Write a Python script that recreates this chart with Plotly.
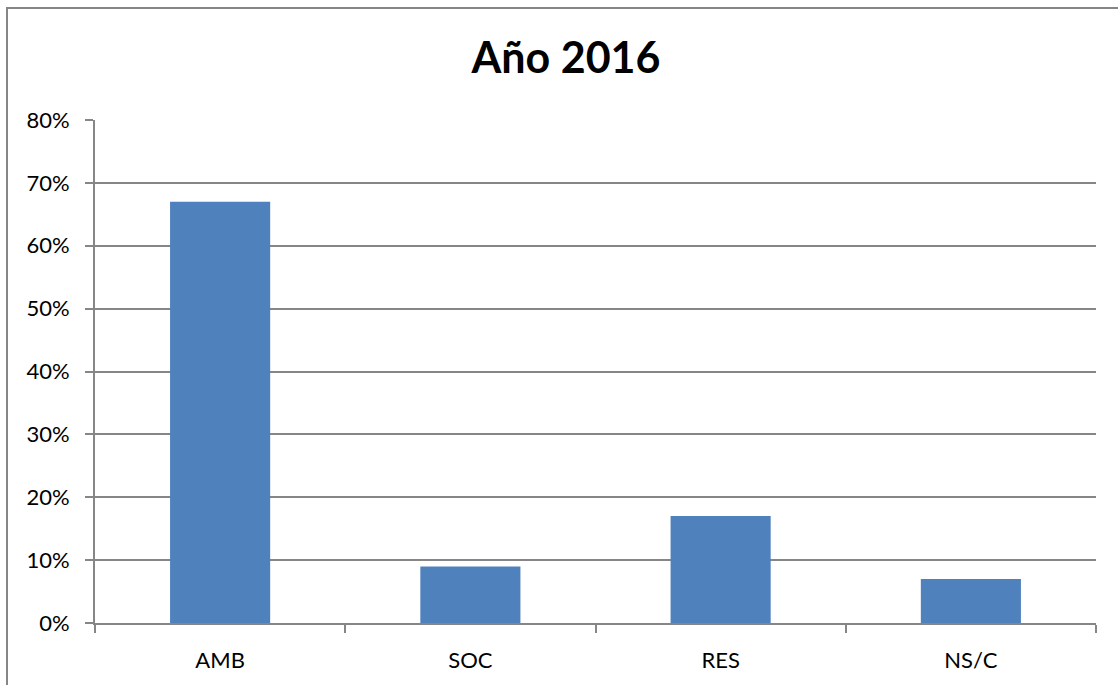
import plotly.graph_objects as go

categories = ["AMB", "SOC", "RES", "NS/C"]
values = [0.67, 0.09, 0.17, 0.07]
y_ticks = [0, 0.1, 0.2, 0.3, 0.4, 0.5, 0.6, 0.7, 0.8]
y_ticklabels = ["0%", "10%", "20%", "30%", "40%", "50%", "60%", "70%", "80%"]
title_text = "Año 2016"

FONT = "Lato"
GRID = "#868686"

fig = go.Figure(go.Bar(
    x=categories, y=values,
    marker=dict(color="#4F81BD", line=dict(width=0)),
    width=0.4,
))

fig.update_layout(
    width=1118, height=685,
    margin=dict(l=95, r=22, t=120, b=62),
    paper_bgcolor="white", plot_bgcolor="white",
    showlegend=False,
    font=dict(family=FONT, color="black"),
    title=dict(text=f"<b>{title_text}</b>", x=566/1118, xanchor="center",
               y=1 - 58/685, yanchor="middle",
               font=dict(family=FONT, size=43, color="black")),
)

fig.update_xaxes(
    type="category", tickson="boundaries", ticks="outside", ticklen=8,
    tickcolor=GRID, tickwidth=2, showgrid=False,
    showline=True, linecolor=GRID, linewidth=2,
    tickfont=dict(family=FONT, size=22, color="black"),
    ticklabelstandoff=17,
)
fig.update_yaxes(
    range=[0, 0.8], tickvals=y_ticks, ticktext=y_ticklabels,
    ticks="outside", ticklen=8, tickcolor=GRID, tickwidth=2,
    showgrid=True, gridcolor=GRID, gridwidth=2,
    showline=True, linecolor=GRID, linewidth=2,
    zeroline=False,
    tickfont=dict(family=FONT, size=22, color="black"),
    ticklabelstandoff=11,
)

# outer chart border (top and left edges visible, rest lies outside the image)
fig.add_shape(type="rect", xref="paper", yref="paper",
              x0=(7 - 95) / 1001, x1=1.2, y0=-0.3, y1=1 + (120 - 8) / 503,
              line=dict(color=GRID, width=2), fillcolor="rgba(0,0,0,0)", layer="below")

fig.write_html("out.html", config={"displayModeBar": False},
               post_script="document.body.style.margin='0';document.body.style.overflow='hidden';")
